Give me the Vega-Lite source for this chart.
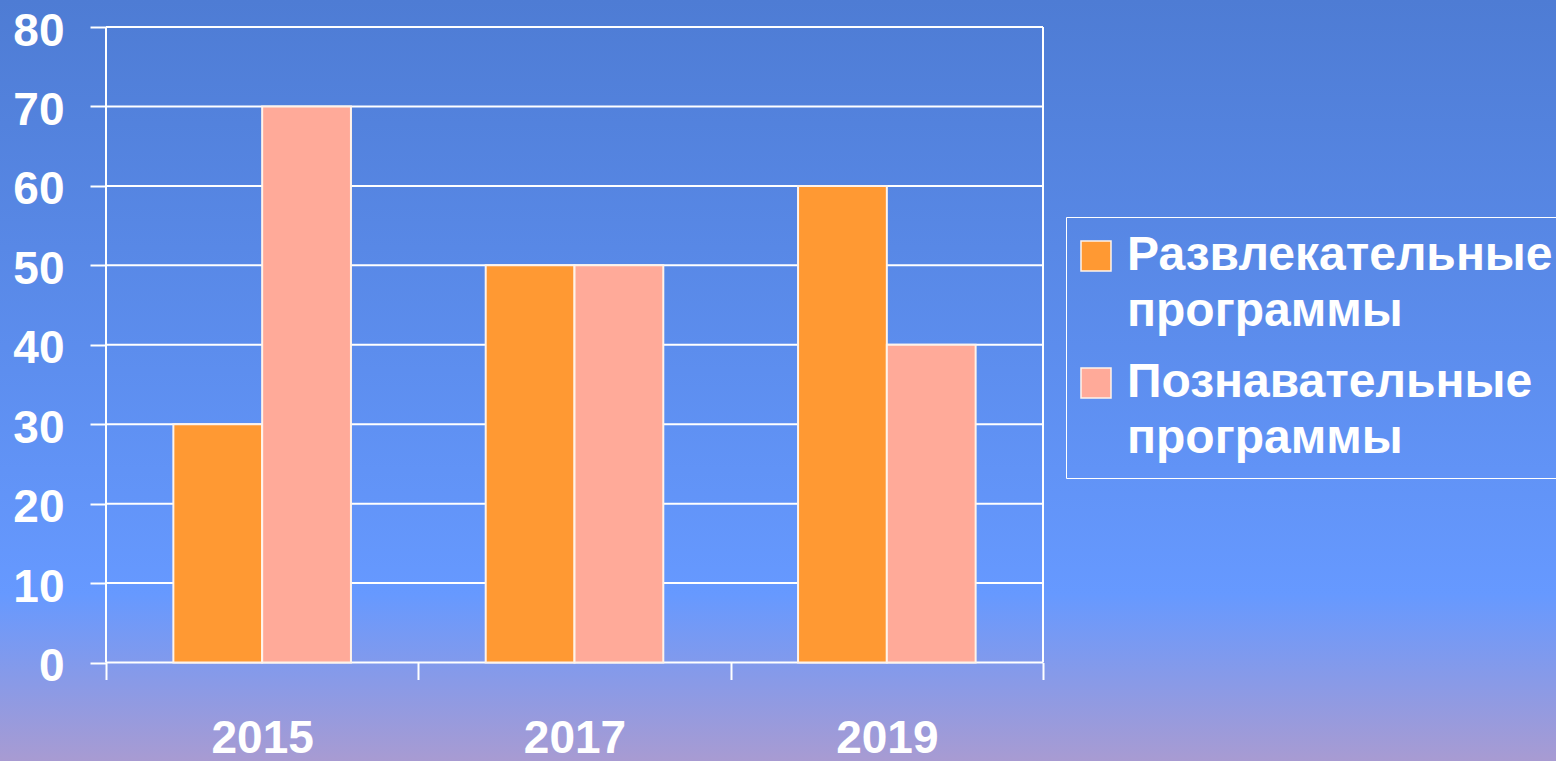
{
  "$schema": "https://vega.github.io/schema/vega-lite/v6.json",
  "width": 1556,
  "height": 761,
  "autosize": {"type": "none"},
  "padding": 0,
  "background": "#6190ea",
  "config": {
    "view": {
      "stroke": null,
      "fill": {
        "gradient": "linear",
        "x1": 0, "y1": 0, "x2": 0, "y2": 1,
        "stops": [
          {"offset": 0, "color": "#4e7cd4"},
          {"offset": 0.78, "color": "#6699ff"},
          {"offset": 1, "color": "#a89bd2"}
        ]
      }
    },
    "font": "Liberation Sans",
    "style": {"guide-label": {"lineHeight": 56}}
  },
  "encoding": {
    "y": {
      "field": "value",
      "type": "quantitative",
      "scale": {"domain": [-12.399, 83.399], "nice": false, "zero": false},
      "axis": {
        "orient": "left",
        "offset": -106,
        "values": [0, 10, 20, 30, 40, 50, 60, 70, 80],
        "domain": false,
        "grid": false,
        "ticks": true,
        "tickSize": 16,
        "tickColor": "white",
        "tickWidth": 2,
        "labelPadding": 26,
        "labelOffset": 4,
        "labelFont": "Liberation Sans",
        "labelFontSize": 46,
        "labelFontWeight": "bold",
        "labelColor": "white",
        "title": null
      }
    }
  },
  "layer": [
    {
      "data": {"values": [{"value": 0}, {"value": 10}, {"value": 20}, {"value": 30}, {"value": 40}, {"value": 50}, {"value": 60}, {"value": 70}, {"value": 80}]},
      "mark": {"type": "rule", "color": "white", "strokeWidth": 2},
      "encoding": {
        "x": {"datum": 0, "type": "quantitative", "scale": {"domain": [-0.11313, 1.54749], "nice": false, "zero": false}, "axis": null},
        "x2": {"datum": 1}
      }
    },
    {
      "data": {"values": [{"value": 80}]},
      "mark": {"type": "rule", "color": "white", "strokeWidth": 2},
      "encoding": {
        "x": {"datum": 0, "type": "quantitative", "scale": {"domain": [-0.11313, 1.54749], "nice": false, "zero": false}, "axis": null},
        "y2": {"datum": 0}
      }
    },
    {
      "data": {"values": [{"value": 80}]},
      "mark": {"type": "rule", "color": "white", "strokeWidth": 2},
      "encoding": {
        "x": {"datum": 1, "type": "quantitative", "scale": {"domain": [-0.11313, 1.54749], "nice": false, "zero": false}, "axis": null},
        "y2": {"datum": 0}
      }
    },
    {
      "data": {
        "values": [
          {"year": "2015", "series": "Развлекательные программы", "value": 30},
          {"year": "2015", "series": "Познавательные программы", "value": 70},
          {"year": "2017", "series": "Развлекательные программы", "value": 50},
          {"year": "2017", "series": "Познавательные программы", "value": 50},
          {"year": "2019", "series": "Развлекательные программы", "value": 60},
          {"year": "2019", "series": "Познавательные программы", "value": 40}
        ]
      },
      "mark": {"type": "bar", "stroke": "#fff3ea", "strokeWidth": 2},
      "encoding": {
        "x": {
          "field": "year",
          "type": "nominal",
          "sort": null,
          "scale": {"paddingInner": 0, "paddingOuter": 0.9909, "align": 0.17124, "round": false},
          "axis": {
            "orient": "bottom",
            "offset": -98.5,
            "domain": false,
            "grid": false,
            "ticks": true,
            "tickBand": "extent",
            "tickSize": 17,
            "tickColor": "white",
            "tickWidth": 2,
            "labelAngle": 0,
            "labelPadding": 37,
            "labelFont": "Liberation Sans",
            "labelFontSize": 46,
            "labelFontWeight": "bold",
            "labelColor": "white",
            "title": null
          }
        },
        "xOffset": {
          "field": "series",
          "type": "nominal",
          "sort": ["Развлекательные программы", "Познавательные программы"],
          "scale": {"paddingInner": 0, "paddingOuter": 0.7587}
        },
        "y": {"field": "value", "type": "quantitative", "stack": null},
        "color": {
          "field": "series",
          "type": "nominal",
          "sort": ["Развлекательные программы", "Познавательные программы"],
          "scale": {"domain": ["Развлекательные программы", "Познавательные программы"], "range": ["#ff9933", "#ffaa99"]},
          "legend": {
            "orient": "none",
            "legendX": 1066,
            "legendY": 217,
            "title": null,
            "strokeColor": "white",
            "padding": 15,
            "symbolType": "square",
            "symbolSize": 900,
            "symbolOffset": -9,
            "symbolStrokeColor": "#fff3ea",
            "symbolStrokeWidth": 1.5,
            "symbolOpacity": 1,
            "labelExpr": "split(datum.label, ' ')",
            "labelFont": "Liberation Sans",
            "labelFontSize": 48,
            "labelFontWeight": "bold",
            "labelColor": "white",
            "labelLimit": 1000,
            "labelOffset": 7,
            "rowPadding": 23
          }
        }
      }
    }
  ],
  "resolve": {"scale": {"x": "independent"}}
}
